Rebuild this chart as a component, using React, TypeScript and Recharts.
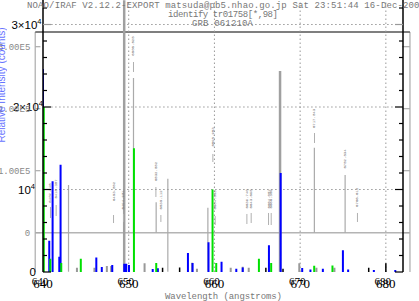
import React from 'react';
import { ComposedChart, Line, XAxis, YAxis, ReferenceLine, Scatter } from 'recharts';

// lower chart: wavelength in nm, counts
const WAVE_TICKS = [640, 650, 660, 670, 680];
const COUNT_TICKS = [0, 2000, 4000, 6000, 8000, 10000, 12000, 14000, 16000, 18000, 20000, 22000, 24000, 26000, 28000, 30000, 32000];
const COUNT_MAJOR = [0, 10000, 20000, 30000];
const COUNT_MAJOR_TEXT = ['0', '10', '2×10', '3×10'];

// [wavelength, counts]
const blueLines = [
  [640.0, 24600], [640.73, 3800], [641.12, 11000], [641.9, 1850], [642.05, 13000],
  [646.22, 1750], [646.86, 600], [648.08, 850], [649.48, 1000], [649.71, 1000],
  [650.03, 850], [652.8, 350], [653.4, 450], [656.91, 2300], [657.45, 1100],
  [659.31, 3600], [660.83, 1250], [662.55, 400], [663.3, 550], [666.36, 3250],
  [667.73, 12000], [670.24, 500], [671.2, 300], [672.65, 400], [674.99, 2650],
  [675.6, 300], [678.6, 250], [681.1, 250],
];
const greenLines = [
  [640.09, 20000], [640.85, 1600], [642.13, 1100], [644.41, 1600], [650.61, 15000],
  [653.21, 1100], [659.78, 10000], [660.21, 1100], [665.19, 1600], [666.62, 1100],
  [671.64, 750], [673.77, 800],
];
const blackLines = [
  [653.95, 520], [655.94, 560], [666.0, 520], [668.0, 400], [678.0, 520], [680.0, 1050],
];
const greyLines = [
  [643.96, 520], [646.0, 520], [647.45, 730], [647.95, 730], [651.85, 1050], [657.4, 1130],
  [657.96, 400], [661.9, 520], [663.3, 640], [664.0, 520], [669.9, 1050], [671.9, 520], [674.0, 520],
];

// IRAF plot: wavelength in angstroms, flux
const FLUX_TICKS = [0, 100000, 200000, 300000];
const FLUX_TEXT = ['0', '1.00E5', '2.00E5', '3.00E5'];
// [wavelength, low, high]
const irafThick = [
  [6495.7, -63000, 375000], [6677.1, -63000, 261000],
];
const irafThin = [
  [6506.53, 0, 249500], [6430.9, -63000, 77000], [6546.5, -63000, 87000],
  [6593.1, -63000, 40300], [6717.04, 0, 137000], [6752.83, 0, 93000], [6532.9, 0, 49000],
];
// identify marks: [wavelength, tick low, tick high]
const markTicks = [
  [6409.9, 23700, 41500], [6416.5, 26900, 44700], [6483.3, 15600, 28500], [6494.9, 17300, 30200],
  [6506.53, 259200, 275300], [6532.6, 57600, 73700], [6538.4, 17300, 28500], [6598.9, 114000, 127000],
  [6601.6, 12400, 26900], [6638.5, 14000, 30200], [6643.5, 15600, 31800], [6663.7, 12400, 31800],
  [6666.8, 12400, 31800], [6717.2, 144700, 160800], [6767.2, 17300, 31800],
];
const markWaves = [6409.9, 6416.5, 6483.3, 6494.9, 6506.53, 6532.6, 6538.4, 6598.9, 6601.6, 6638.5, 6643.5, 6663.7, 6666.8, 6717.2, 6752.9, 6767.2];
const markLevels = [64000, 70500, 66500, 52900, 301100, 98700, 52900, 154400, 52900, 54500, 54500, 54500, 54500, 184200, 118900, 57100];
const markNames = ['6402.246', '6416.307', '6483.082', '6494.981', '6506.528', '6532.882', '6538.112', '6598.953', '6604.853', '6639.740', '6643.698', '6664.051', '6666.359', '6717.043', '6752.834', '6766.612'];

const spikes = (list: number[][]) => list.flatMap(([x, h]) => [{ x, y: 0 }, { x, y: h }, { x, y: null }]);
const segs = (list: number[][]) => list.flatMap(([x, lo, hi]) => [{ x, y: lo }, { x, y: hi }, { x, y: null }]);
const marks = markWaves.map((x, i) => ({ x, y: markLevels[i], name: markNames[i] }));

const FRAME_L = 6392.2;
const FRAME_R = 6828.3;
const FRAME_TOP = 323700;
const FRAME_BOT = -63387;
const MONO = '"Liberation Mono", "DejaVu Sans Mono", monospace';
const SANS = '"Liberation Sans", Arial, sans-serif';
const SERIF = '"Liberation Serif", "Times New Roman", serif';

const LABEL_DX: Record<number, number> = { 0: -7, 10000: -8, 20000: 0, 30000: -1.5 };
const TICK_BASE = 288; // baseline of the wavelength tick labels

const CountTick = ({ x, y, payload, side }: any) => {
  const v = payload.value;
  const i = COUNT_MAJOR.indexOf(v);
  const major = i >= 0;
  const len = major ? 8 : 4;
  const dir = side === 'left' ? 1 : -1;
  return (
    <g>
      <line x1={x} x2={x + dir * len} y1={y} y2={y} stroke={v === 30000 ? '#999' : '#000'} strokeWidth={1.2} />
      {major && side === 'left' && (
        <text x={x + LABEL_DX[v]} y={y + 4} textAnchor="end" fontSize={11.5} fontFamily={SANS} fill="#000">
          {COUNT_MAJOR_TEXT[i]}
          {v !== 0 && <tspan dy={-5} fontSize={7.5}>4</tspan>}
        </text>
      )}
    </g>
  );
};

// two slightly offset copies, as in the overlaid original
const WaveTick = ({ x, payload }: any) => (
  <g fontFamily={SERIF} fill="#000" textAnchor="middle">
    <text x={x - 3} y={TICK_BASE - 3} fontSize={11}>{payload.value}</text>
    <text x={x} y={TICK_BASE} fontSize={13}>{payload.value}</text>
  </g>
);

const MarkLabel = ({ cx, cy, payload }: any) => (
  <text x={cx} y={cy} transform={`rotate(-90 ${cx} ${cy})`} textAnchor="middle" dominantBaseline="central"
    fontSize={4} fontFamily={MONO} fill="#777">{payload.name}</text>
);

const grey = { dot: false, activeDot: false, isAnimationActive: false, connectNulls: false, type: 'linear' as const };

export default function App() {
  return (
    <div style={{ position: 'fixed', left: 0, top: 0, width: 419, height: 301, background: '#fff' }}>
      <ComposedChart width={419} height={301} margin={{ top: 0, right: 0, bottom: 0, left: 0 }}>
        <XAxis xAxisId="w" dataKey="x" type="number" domain={[640, 682]} ticks={WAVE_TICKS} interval={0}
          height={29} tickSize={0} tickMargin={0} axisLine={{ stroke: '#000', strokeWidth: 2 }}
          tick={(p: any) => <WaveTick {...p} />} allowDataOverflow />
        <XAxis xAxisId="a" dataKey="x" type="number" domain={[6401.2, 6820.2]} hide allowDataOverflow />
        <YAxis yAxisId="c" type="number" domain={[0, 32970]} ticks={COUNT_TICKS} interval={0} width={43}
          tickSize={0} tickMargin={0} axisLine={{ stroke: '#000', strokeWidth: 1.5 }}
          tick={(p: any) => <CountTick {...p} side="left" />} allowDataOverflow />
        <YAxis yAxisId="c2" orientation="right" type="number" domain={[0, 32970]} ticks={COUNT_TICKS} interval={0}
          width={16} tickSize={0} tickMargin={0} axisLine={{ stroke: '#000', strokeWidth: 1.5 }}
          tick={(p: any) => <CountTick {...p} side="right" />} allowDataOverflow />
        <YAxis yAxisId="f" dataKey="y" type="number" domain={[FRAME_BOT, 375323]} hide allowDataOverflow />

        {/* IRAF frame */}
        <ReferenceLine xAxisId="a" yAxisId="f" ifOverflow="visible" stroke="#bbb" strokeWidth={1.5}
          segment={[{ x: FRAME_L, y: FRAME_TOP }, { x: FRAME_L, y: FRAME_BOT }]} />
        <ReferenceLine xAxisId="a" yAxisId="f" ifOverflow="visible" stroke="#bbb" strokeWidth={1.5}
          segment={[{ x: FRAME_R, y: FRAME_TOP }, { x: FRAME_R, y: FRAME_BOT }]} />
        <ReferenceLine xAxisId="a" yAxisId="f" ifOverflow="visible" stroke="#555" strokeWidth={1.5}
          segment={[{ x: FRAME_L, y: FRAME_TOP }, { x: FRAME_R, y: FRAME_TOP }]} />
        <ReferenceLine xAxisId="a" yAxisId="f" ifOverflow="visible" stroke="#b4b4b4" strokeWidth={1.5}
          segment={[{ x: FRAME_L, y: 0 }, { x: FRAME_R, y: 0 }]} />
        {FLUX_TICKS.map((f, i) => (
          <ReferenceLine key={`fl${f}`} xAxisId="a" yAxisId="f" ifOverflow="visible" stroke="#aaa" strokeWidth={1.2}
            segment={[{ x: FRAME_L, y: f }, { x: FRAME_L + 6, y: f }]}
            label={{ value: FLUX_TEXT[i], position: 'left', offset: 5, fill: '#888', fontSize: 9, fontFamily: MONO }} />
        ))}
        {FLUX_TICKS.map((f) => (
          <ReferenceLine key={`fr${f}`} xAxisId="a" yAxisId="f" ifOverflow="visible" stroke="#aaa" strokeWidth={1.2}
            segment={[{ x: FRAME_R - 9, y: f }, { x: FRAME_R, y: f }]} />
        ))}

        <Line data={segs(irafThick)} dataKey="y" xAxisId="a" yAxisId="f" stroke="#a0a0a0" strokeWidth={2.5} {...grey} />
        <Line data={segs(irafThin)} dataKey="y" xAxisId="a" yAxisId="f" stroke="#aaa" strokeWidth={1.2} {...grey} />
        <Line data={segs(markTicks)} dataKey="y" xAxisId="a" yAxisId="f" stroke="#b0b0b0" strokeWidth={1} {...grey} />
        <Scatter data={marks} dataKey="y" xAxisId="a" yAxisId="f" shape={(p: any) => <MarkLabel {...p} />} isAnimationActive={false} />

        {/* dotted grid of the lower chart */}
        {WAVE_TICKS.slice(1).map((w) => (
          <ReferenceLine key={`gx${w}`} xAxisId="w" yAxisId="c" x={w} stroke="#999" strokeDasharray="1.5 2.5" />
        ))}
        {COUNT_MAJOR.slice(1).map((c) => (
          <ReferenceLine key={`gy${c}`} xAxisId="w" yAxisId="c" stroke="#999" strokeDasharray="1.5 2.5"
            segment={[{ x: 640.95, y: c }, { x: 681.05, y: c }]} />
        ))}

        <Line data={spikes(greyLines)} dataKey="y" xAxisId="w" yAxisId="c" stroke="#999" strokeWidth={2} {...grey} />
        <Line data={spikes(blackLines)} dataKey="y" xAxisId="w" yAxisId="c" stroke="#000" strokeWidth={1.5} {...grey} />
        <Line data={spikes(blueLines)} dataKey="y" xAxisId="w" yAxisId="c" stroke="#0000ff" strokeWidth={2} {...grey} />
        <Line data={spikes(greenLines)} dataKey="y" xAxisId="w" yAxisId="c" stroke="#00e000" strokeWidth={2} {...grey} />
      </ComposedChart>
      <svg width={419} height={301} style={{ position: 'absolute', left: 0, top: 0, pointerEvents: 'none' }}>
        <g fontFamily={MONO} fontSize={9} fill="#777">
          <text x={27} y={8} textLength={398} lengthAdjust="spacing">NOAO/IRAF V2.12.2-EXPORT matsuda@pb5.nhao.go.jp Sat 23:51:44 16-Dec-2006</text>
          <text x={168} y={17} textLength={110} lengthAdjust="spacing">identify tr01758[*,98]</text>
          <text x={192} y={26} textLength={61} lengthAdjust="spacing">GRB 061210A</text>
          <text x={165} y={299} textLength={117} lengthAdjust="spacing">Wavelength (angstroms)</text>
        </g>
        <text x={5} y={85} transform="rotate(-90 5 85)" textAnchor="middle" fontSize={10} fontFamily={SANS} fill="#3344ff" opacity={0.75}>
          Relative Intensity (counts)
        </text>
      </svg>
    </div>
  );
}
